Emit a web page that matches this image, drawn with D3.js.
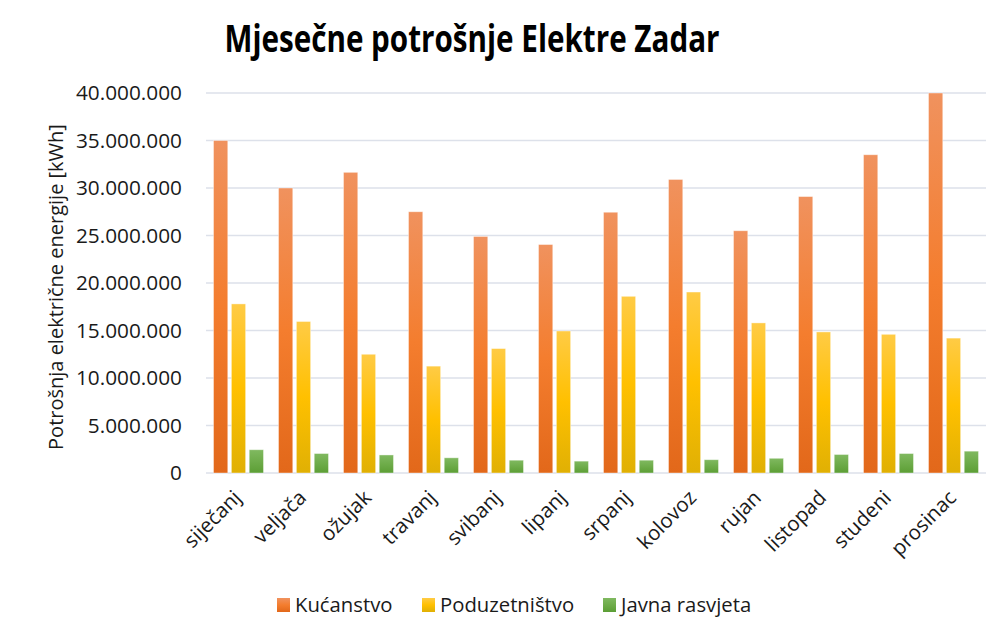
<!DOCTYPE html>
<html>
<head>
<meta charset="utf-8">
<script src="https://cdn.jsdelivr.net/npm/d3@7"></script>
<style>
  body { margin: 0; background: #fff; }
  text { font-family: "Open Sans", "Noto Sans", sans-serif; fill: #1a1a1a; }
</style>
</head>
<body>
<script>
// months (x categories)
const months = ["siječanj","veljača","ožujak","travanj","svibanj","lipanj","srpanj","kolovoz","rujan","listopad","studeni","prosinac"];
// series names
const seriesNames = ["Kućanstvo","Poduzetništvo","Javna rasvjeta"];
// values in kWh
const kucanstvo     = [35000000,30000000,31650000,27500000,24900000,24050000,27450000,30900000,25500000,29100000,33500000,40000000];
const poduzetnistvo = [17800000,15950000,12500000,11250000,13100000,14950000,18600000,19050000,15800000,14850000,14600000,14200000];
const javnaRasvjeta = [2450000,2050000,1900000,1600000,1350000,1250000,1350000,1400000,1550000,1950000,2050000,2300000];
const yTicks = [0,5000000,10000000,15000000,20000000,25000000,30000000,35000000,40000000];

const width = 996, height = 618;
const margin = { top: 93, left: 206, right: 10, bottom: 145 };

const svg = d3.select("body").append("svg")
  .attr("width", width).attr("height", height);

//gradients like excel's preset fill
const grads = [
  { id: "g0", stops: ["#f0925e", "#f47d2e", "#e2681a"] },
  { id: "g1", stops: ["#ffcb45", "#ffc000", "#e0b004"] },
  { id: "g2", stops: ["#80b960", "#6eac4a", "#5c9e35"] }
];
const defs = svg.append("defs");
grads.forEach(g => {
  const lg = defs.append("linearGradient").attr("id", g.id)
    .attr("x1", 0).attr("y1", 0).attr("x2", 0).attr("y2", 1);
  lg.append("stop").attr("offset", "0%").attr("stop-color", g.stops[0]);
  lg.append("stop").attr("offset", "50%").attr("stop-color", g.stops[1]);
  lg.append("stop").attr("offset", "100%").attr("stop-color", g.stops[2]);
});

const data = months.map((m, i) => ({ month: m, values: [kucanstvo[i], poduzetnistvo[i], javnaRasvjeta[i]] }));

const x = d3.scaleBand().domain(months)
  .range([margin.left, width - margin.right]).paddingInner(0).paddingOuter(0);

const x1 = d3.scaleBand().domain(d3.range(seriesNames.length))
  .range([7.5, x.bandwidth() - 7.5]).paddingInner(0.2).paddingOuter(0);

const y = d3.scaleLinear().domain([0, 40000000])
  .range([height - margin.bottom, margin.top]);

const fmt = v => d3.format(",")(v).replace(/,/g, ".");

// gridlines
svg.append("g").selectAll("line").data(yTicks).join("line")
  .attr("x1", margin.left).attr("x2", width - margin.right)
  .attr("y1", d => y(d)).attr("y2", d => y(d))
  .attr("stroke", "#dde1ea").attr("stroke-width", 1.5);

// y axis labels
svg.append("g").selectAll("text").data(yTicks).join("text")
  .attr("x", 182).attr("y", d => y(d)).attr("dy", "0.35em")
  .attr("text-anchor", "end").style("font-size", "20.8px")
  .text(d => fmt(d));

// bars
const groups = svg.append("g").selectAll("g").data(data).join("g")
  .attr("transform", d => `translate(${x(d.month)},0)`);

groups.selectAll("rect").data(d => d.values.map((v, k) => ({ v, k }))).join("rect")
  .attr("x", d => x1(d.k))
  .attr("width", x1.bandwidth())
  .attr("y", d => y(d.v))
  .attr("height", d => y(0) - y(d.v))
  .attr("fill", d => `url(#g${d.k})`)
  .attr("stroke", "#ffffff").attr("stroke-opacity", 0.5).attr("stroke-width", 0.8);

// x labels rotated
svg.append("g").selectAll("text").data(months).join("text")
  .attr("text-anchor", "end")
  .attr("transform", d => `translate(${x(d) + x.bandwidth() / 2 + 4},${y(0) + 26}) rotate(-45)`)
  .style("font-size", "20.5px")
  .text(d => d);

// y axis title
svg.append("text")
  .attr("transform", `translate(63,287) rotate(-90)`)
  .attr("text-anchor", "middle").style("font-size", "20px")
  .text("Potrošnja električne energije [kWh]");

// title
svg.append("text")
  .attr("x", 472).attr("y", 52)
  .attr("text-anchor", "middle")
  .style("font-size", "37px").style("font-weight", "bold").style("fill", "#000")
  .attr("textLength", 495).attr("lengthAdjust", "spacingAndGlyphs")
  .text("Mjesečne potrošnje Elektre Zadar");

// legend
const legendX = [277, 422, 603];
const legend = svg.append("g").selectAll("g").data(seriesNames).join("g")
  .attr("transform", (d, i) => `translate(${legendX[i]},605)`);
legend.append("rect").attr("x", 0).attr("y", -7).attr("width", 13).attr("height", 14)
  .attr("fill", (d, i) => `url(#g${i})`);
legend.append("text").attr("x", 18).attr("dy", "0.35em").style("font-size", "20.3px")
  .text(d => d);
</script>
</body>
</html>
